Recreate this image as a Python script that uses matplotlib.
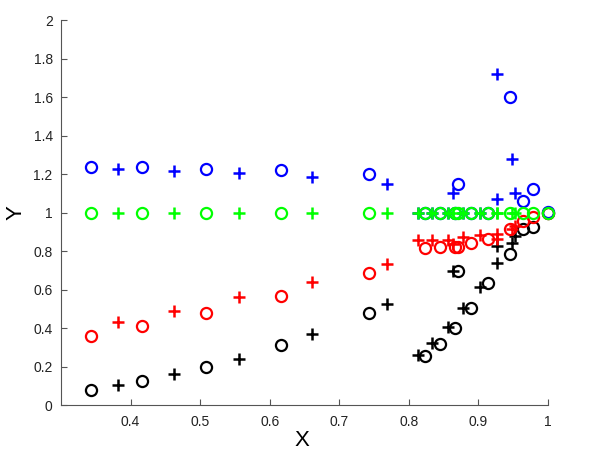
import matplotlib
matplotlib.use("Agg")
import matplotlib.pyplot as plt

plt.rcParams['font.family'] = ['Liberation Sans', 'DejaVu Sans']

# x positions of the circle and plus samples
x_circ = [0.343, 0.417, 0.509, 0.617, 0.743,
          0.823, 0.845, 0.866, 0.889, 0.914,
          0.871, 0.945, 0.965, 0.979, 1.0]
x_plus = [0.382, 0.462, 0.556, 0.661, 0.769,
          0.813, 0.834, 0.856, 0.878, 0.902,
          0.863, 0.927, 0.927, 0.949, 0.953]

# black series
black_circ = [0.078, 0.126, 0.196, 0.312, 0.476,
              0.255, 0.317, 0.400, 0.506, 0.634,
              0.698, 0.785, 0.912, 0.925, 1.0]
black_plus = [0.102, 0.159, 0.241, 0.367, 0.523,
              0.260, 0.324, 0.407, 0.506, 0.615,
              0.698, 0.736, 0.825, 0.840, 0.878]

# red series
red_circ = [0.358, 0.412, 0.476, 0.568, 0.687,
            0.818, 0.820, 0.823, 0.840, 0.862,
            0.822, 0.916, 0.956, 0.975, 1.0]
red_plus = [0.430, 0.487, 0.559, 0.639, 0.732,
            0.855, 0.855, 0.857, 0.873, 0.883,
            0.836, 0.890, 0.862, 0.916, 0.930]

# blue series
blue_circ = [1.235, 1.235, 1.226, 1.221, 1.200,
             1.0, 1.0, 1.0, 1.0, 1.0,
             1.148, 1.598, 1.058, 1.120, 1.003]
blue_plus = [1.224, 1.217, 1.205, 1.184, 1.150,
             1.0, 1.0, 1.0, 1.0, 1.0,
             1.100, 1.719, 1.072, 1.276, 1.100]

# green series
green_circ = [1.0] * 15
green_plus = [1.0] * 15

fig = plt.figure(figsize=(6, 4.71), dpi=100)
ax = fig.add_axes([0.1017, 0.140, 0.8113, 0.8175])

series = [("black", black_circ, black_plus),
          ("red", red_circ, red_plus),
          ("blue", blue_circ, blue_plus),
          ((0, 1, 0), green_circ, green_plus)]

for col, yc, yp in series:
    ax.plot(x_circ, yc, 'o', mfc='none', mec=col, ms=8, mew=1.6, clip_on=False)
    ax.plot(x_plus, yp, '+', color=col, ms=8, mew=1.8, clip_on=False)

ax.set_xlim(0.3, 1.0)
ax.set_ylim(0, 2)
ax.set_xticks([0.4, 0.5, 0.6, 0.7, 0.8, 0.9, 1.0])
ax.set_xticklabels(['0.4', '0.5', '0.6', '0.7', '0.8', '0.9', '1'])
ax.set_yticks([0, 0.2, 0.4, 0.6, 0.8, 1.0, 1.2, 1.4, 1.6, 1.8, 2.0])
ax.set_yticklabels(['0', '0.2', '0.4', '0.6', '0.8', '1', '1.2', '1.4', '1.6', '1.8', '2'])

for s in ['top', 'right']:
    ax.spines[s].set_visible(False)
for s in ['left', 'bottom']:
    ax.spines[s].set_color('#555555')
    ax.spines[s].set_linewidth(0.8)
ax.tick_params(direction='in', length=4, color='#555555', labelsize=10,
               labelcolor='#222222')
ax.tick_params(axis='x', pad=7)
ax.tick_params(axis='y', pad=6)

ax.set_xlabel('X', fontsize=16)
ax.set_ylabel('Y', fontsize=16)
ax.xaxis.set_label_coords(0.495, -0.091)
ax.yaxis.set_label_coords(-0.092, 0.5)
ax.xaxis.label.set_va('center')
ax.yaxis.label.set_va('center')

fig.savefig('out.png')
